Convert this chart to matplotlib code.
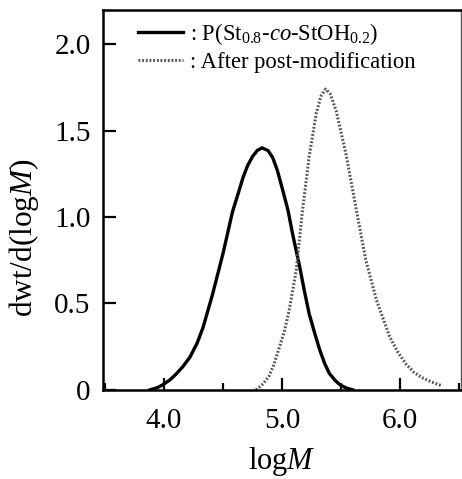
import matplotlib.pyplot as plt
from matplotlib.ticker import MultipleLocator

# ==========================================
# DATA
# ==========================================
LOGM_A = [3.88, 3.94, 3.99, 4.05, 4.10, 4.16, 4.22, 4.28, 4.33, 4.41, 4.50,
          4.58, 4.63, 4.67, 4.71, 4.75, 4.79, 4.83, 4.88, 4.92, 4.96, 5.00,
          5.05, 5.09, 5.15, 5.19, 5.23, 5.28, 5.32, 5.36, 5.40, 5.45, 5.49,
          5.54, 5.60]
DWT_A = [0.0, 0.012, 0.03, 0.058, 0.09, 0.135, 0.19, 0.27, 0.36, 0.55, 0.79,
         1.03, 1.14, 1.23, 1.30, 1.35, 1.385, 1.40, 1.385, 1.345, 1.27, 1.17,
         1.04, 0.90, 0.71, 0.57, 0.44, 0.32, 0.23, 0.155, 0.096, 0.055, 0.03,
         0.012, 0.0]

LOGM_B = [4.78, 4.84, 4.89, 4.93, 4.97, 5.02, 5.06, 5.12, 5.17, 5.23, 5.29,
          5.33, 5.37, 5.41, 5.46, 5.54, 5.63, 5.71, 5.80, 5.91, 5.98, 6.05,
          6.12, 6.19, 6.27, 6.35]
DWT_B = [0.0, 0.035, 0.08, 0.145, 0.23, 0.34, 0.46, 0.69, 1.02, 1.35, 1.60,
         1.70, 1.74, 1.71, 1.61, 1.37, 1.04, 0.75, 0.52, 0.31, 0.22, 0.15,
         0.10, 0.07, 0.045, 0.025]

LABEL_A = r": P(St$_{0.8}$-$co$-StOH$_{0.2}$)"
LABEL_B = ": After post-modification"

X_TICKS = [4.0, 5.0, 6.0]
X_TICKLABELS = ["4.0", "5.0", "6.0"]
Y_TICKS = [0, 0.5, 1.0, 1.5, 2.0]
Y_TICKLABELS = ["0", "0.5", "1.0", "1.5", "2.0"]

plt.rcParams["font.family"] = "Liberation Serif"
plt.rcParams["mathtext.fontset"] = "custom"
plt.rcParams["mathtext.rm"] = "Liberation Serif"
plt.rcParams["mathtext.it"] = "Liberation Serif:italic"

fig = plt.figure(figsize=(4.62, 4.79), dpi=100)
ax = fig.add_axes([0.223, 0.186, 0.775, 0.793])

ax.plot(LOGM_A, DWT_A, color="black", lw=2.4, label=LABEL_A)
ax.plot(LOGM_B, DWT_B, color="#555555", lw=2.2, linestyle=(0, (0.6, 0.6)),
        label=LABEL_B)

ax.set_xlim(3.483, 6.517)
ax.set_ylim(0, 2.197)
ax.set_xticks(X_TICKS)
ax.set_xticklabels(X_TICKLABELS)
ax.xaxis.set_minor_locator(MultipleLocator(0.5))
ax.set_yticks(Y_TICKS)
ax.set_yticklabels(Y_TICKLABELS)

ax.tick_params(axis="both", which="major", direction="in", length=9,
               width=1.6, labelsize=21)
ax.tick_params(axis="x", which="major", pad=13)
ax.tick_params(axis="y", which="major", pad=9)
ax.tick_params(axis="x", which="minor", direction="in", length=5, width=1.6)

for side in ["left", "bottom", "top"]:
    ax.spines[side].set_linewidth(1.8)
ax.spines["right"].set_linewidth(1.0)
ax.spines["right"].set_color("#555555")

ax.set_xlabel(r"log$M$", fontsize=22, labelpad=8)
ax.set_ylabel(r"dwt/d(log$M$)", fontsize=22.5)
ax.yaxis.set_label_coords(-0.172, 0.40)

ax.legend(loc="upper left", bbox_to_anchor=(0.06, 1.008), frameon=False,
          fontsize=16.3, handlelength=2.0, handletextpad=0.3,
          labelspacing=0.25, borderaxespad=0.2)

fig.savefig("out.png", dpi=100)
